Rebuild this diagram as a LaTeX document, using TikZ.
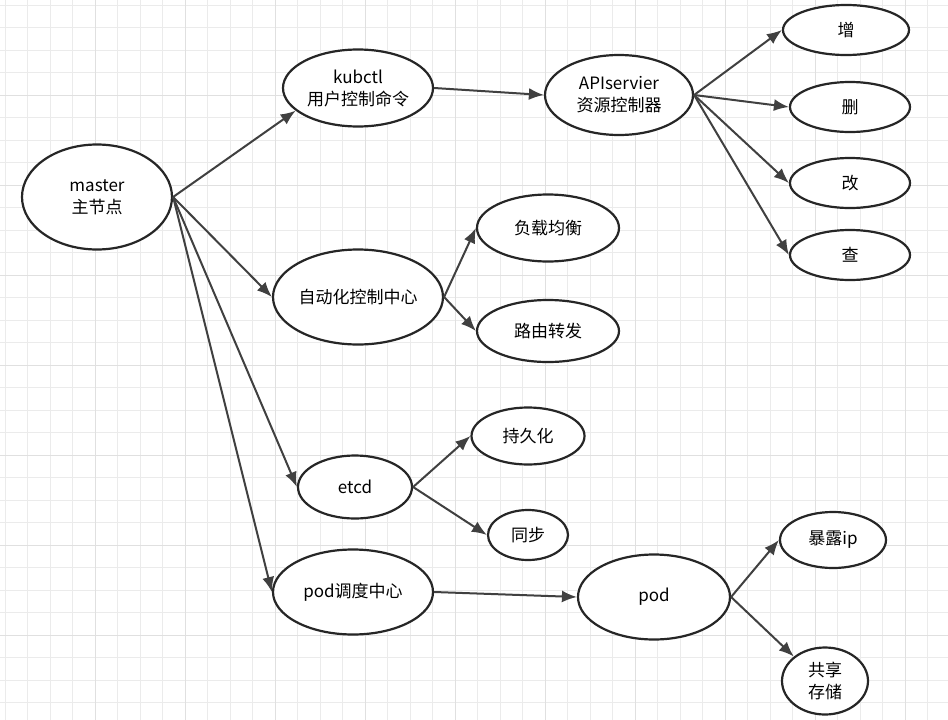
\documentclass[tikz,border=0pt]{standalone}
\usepackage{fontspec}
\setmainfont{Noto Sans CJK SC}
\usetikzlibrary{shapes.geometric,arrows.meta}
\tikzset{
  bubble/.style={ellipse,draw=black!85,line width=2.2pt,fill=white,inner sep=0pt,align=center,font=\fontsize{17}{22}\selectfont},
  link/.style={draw=black!75,line width=2pt,-{Latex[length=15pt,width=12pt]}}
}
\begin{document}
\begin{tikzpicture}[x=1pt,y=-1pt]
  \fill[white] (0,0) rectangle (948,720);
  \useasboundingbox (0,0) rectangle (948,720);
  % grid
  \foreach \g in {5,27.5,...,948} \draw[black!8,line width=0.8pt] (\g,0) -- (\g,720);
  \foreach \g in {5,27.5,...,720} \draw[black!8,line width=0.8pt] (0,\g) -- (948,\g);
  \foreach \g in {95,185,...,948} \draw[black!12,line width=1pt] (\g,0) -- (\g,720);
  \foreach \g in {95,185,...,720} \draw[black!12,line width=1pt] (0,\g) -- (948,\g);

  \node[bubble,minimum width=150pt,minimum height=105pt] (master) at (97,197) {master\\主节点};
  \node[bubble,minimum width=150pt,minimum height=77pt] (kubctl) at (358,88) {kubctl\\用户控制命令};
  \node[bubble,minimum width=148pt,minimum height=80pt] (api) at (619,95) {APIservier\\资源控制器};
  \node[bubble,minimum width=126pt,minimum height=50pt] (zeng) at (846,30) {增};
  \node[bubble,minimum width=120pt,minimum height=50pt] (shan) at (850,107) {删};
  \node[bubble,minimum width=120pt,minimum height=50pt] (gai) at (850,183) {改};
  \node[bubble,minimum width=120pt,minimum height=50pt] (cha) at (850,255) {查};
  \node[bubble,minimum width=170pt,minimum height=95pt] (auto) at (358,297) {自动化控制中心};
  \node[bubble,minimum width=142pt,minimum height=67pt] (lb) at (548,228) {负载均衡};
  \node[bubble,minimum width=142pt,minimum height=62pt] (route) at (548,331) {路由转发};
  \node[bubble,minimum width=114pt,minimum height=63pt] (etcd) at (355,487) {etcd};
  \node[bubble,minimum width=113pt,minimum height=57pt] (persist) at (528,436) {持久化};
  \node[bubble,minimum width=80pt,minimum height=50pt] (sync) at (528,535) {同步};
  \node[bubble,minimum width=160pt,minimum height=85pt] (sched) at (353,592) {pod调度中心};
  \node[bubble,minimum width=152pt,minimum height=85pt] (pod) at (654,597) {pod};
  \node[bubble,minimum width=106pt,minimum height=56pt] (ip) at (833,540) {暴露ip};
  \node[bubble,minimum width=86pt,minimum height=67pt] (store) at (825,681) {共享\\存储};

  \draw[link] (master.east) -- (kubctl.200);
  \draw[link] (master.east) -- (auto.west);
  \draw[link] (master.east) -- (etcd.west);
  \draw[link] (master.east) -- (sched.west);
  \draw[link] (kubctl.east) -- (api.west);
  \draw[link] (api.east) -- (zeng.west);
  \draw[link] (api.east) -- (shan.west);
  \draw[link] (api.east) -- (gai.west);
  \draw[link] (api.east) -- (cha.west);
  \draw[link] (auto.east) -- (lb.west);
  \draw[link] (auto.east) -- (route.west);
  \draw[link] (etcd.east) -- (persist.west);
  \draw[link] (etcd.east) -- (sync.west);
  \draw[link] (sched.east) -- (pod.west);
  \draw[link] (pod.east) -- (ip.west);
  \draw[link] (pod.east) -- (store.north west);
\end{tikzpicture}
\end{document}
